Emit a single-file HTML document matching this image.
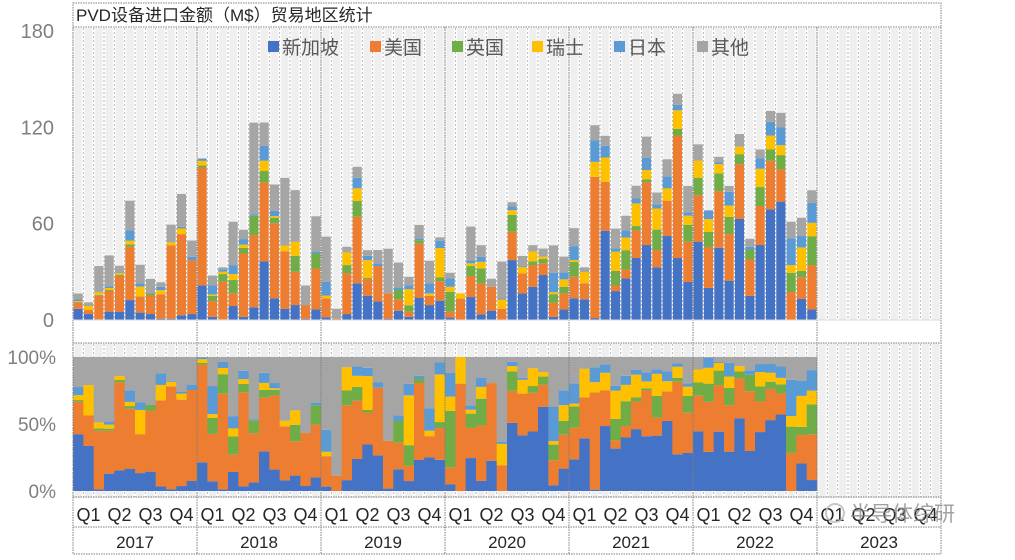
<!DOCTYPE html>
<html><head><meta charset="utf-8">
<style>
body{margin:0;background:#fff;}
svg text{font-family:"Liberation Sans","Noto Sans CJK SC",sans-serif;}
</style></head>
<body>
<svg id="chart" width="1015" height="555" xmlns="http://www.w3.org/2000/svg">
<g id="stripes"></g>
<g id="bars"></g>
<g id="pbars"></g>
<g id="frame"></g>
<text x="76" y="21" font-size="17" fill="#262626">PVD设备进口金额（M$）贸易地区统计</text>
<g id="legend"></g>
<g id="axes"></g>
<g opacity="0.8">
<circle cx="835" cy="513" r="9" fill="none" stroke="#bbb" stroke-width="2"/>
<text x="850" y="521" font-size="21" fill="#8c8c8c">半导体综研</text>
</g>
</svg>
<script>
const series = ["新加坡","美国","英国","瑞士","日本","其他"];
const colors = ["#4472c4","#ed7d31","#70ad47","#ffc000","#5b9bd5","#a5a5a5"];
const years = ["2017","2018","2019","2020","2021","2022","2023"];
const quarters = ["Q1","Q2","Q3","Q4"];
const yTicks = [0,60,120,180];
const pTicks = ["0%","50%","100%"];
const singapore = [7,3.7,0.4,5.2,5.2,12.4,4.6,3.7,0.8,0.8,2.9,3.7, 21.6,2,0.4,8.7,2,7.9,36.5,13.5,7,9.3,0.8,6.6, 1.7,0,3.7,22.8,15.1,11.6,0.8,5.8,2,13.7,9.3,12, 1.5,0,14.3,3.5,5.8,0,37.3,16.6,20.7,28,2,6.6, 13.5,12.9,1.2,55.6,18,25.9,38.6,46.7,32.8,52.3,38.6,23.7, 48.8,20,45,24.5,62.9,15.1,46.7,68.9,73.7,0,13.1,6.6];
const usa = [4,2.5,14.7,12.9,22.2,33.2,10,11.6,15.1,45.6,50.6,33.6, 73.4,9.8,23.4,7.9,39.4,45,49.2,46.7,35.7,20.7,8.5,25.5, 11.8,0.8,25.5,41.5,10.4,22,15.8,7.1,3.1,34,5.8,12.2, 3.7,13.3,13.1,19.3,14.9,7,17.6,12.4,13.5,7.3,8.7,10, 13.5,10,88,30.5,3.5,5.6,17.2,39,10.8,22,76.3,25.1, 29,25.5,35.3,29,34.2,22.6,24.3,30.3,20.1,17.4,13.5,27.6];
const uk = [0.2,0,0.6,0.6,0.6,1.5,0,1.2,0,0,0,0, 1.2,3.3,4.8,8.3,3.5,12,7.1,3.5,0,10,0,9.3, 0,0,5,9.8,0.8,0,0,5.8,4.1,2,0,2.3, 12.4,0,6.2,9.3,0,0,10.6,0,2.3,2.7,5.4,4.1, 9.1,0,0,0,9.1,12,2.7,1.9,12.7,0,4.1,10.4, 10.8,9.3,11,10.8,6.2,6.2,11.8,7,8.9,12,3.9,18];
const swiss = [0.6,2.5,1.5,1.2,1,2.3,6.2,0,2.7,2,3.5,0, 2.9,0.8,1.5,3.7,2,0,6.4,1,3.7,8.7,0,0, 1.7,0,7.9,7.9,11,0,0,0,10,0,1.5,18.3, 3.1,3.3,1.7,4.1,0,5.8,2.9,4.1,6.2,1.5,1.2,4.6, 1.2,7,9.3,15.1,12,7.9,14.1,5.8,13.1,7.7,11.6,5.8, 10.6,8.1,5.8,7,4.6,0,11.4,8.7,6.2,4.8,14.7,8.3];
const japan = [1,0,0,1,0,6.4,2,0,2,0.4,1,2, 1.2,5.8,1.5,5.6,3.5,1,9.3,3.3,0,0,0,1.2, 8.5,0,0,6.6,2.7,1.7,0,1.5,2.3,1.2,6.2,4.6, 5.2,0,1.9,3.1,0,0.6,2.3,0.6,0,0,12,4.4, 8.7,0,13.5,7.3,2.1,4.4,3.1,7.7,2.7,7.3,3.5,2.1, 0,5,1,8.5,0,1.7,6.4,8.5,11,16.6,7.1,12.4];
const other = [3.7,2.3,16.4,19.3,4.8,18.5,11.6,9.1,2.9,10.6,20.5,10.2, 0.4,6,1.2,27,5.8,57,14.5,16.4,42.1,32.2,12.2,22, 28.2,6.2,3.5,6.8,3.5,8.3,27.8,15.6,5.4,8.3,14.1,2.1, 3.5,0,21,7.3,5,23,2.7,6.2,3.9,5,17.2,9.8, 11.2,2.9,9.3,6.2,12.2,9.1,7.9,13.1,7.3,10.8,6.8,16.4, 10.2,0.5,3.5,3.7,7.9,5,5.6,6.8,9.1,10.4,11.4,7.9];
const data = [singapore,usa,uk,swiss,japan,other];

const NS="http://www.w3.org/2000/svg";
const X0=73, X1=941, N=84, MW=(X1-X0)/N;
const TOP0=320, TOP180=31, P0=491, P100=357;
const xm = i => X0 + i*MW;
const yv = v => TOP0 - v*(TOP0-TOP180)/180;
const yp = f => P0 - f*(P0-P100);
function mk(tag, attrs, parent){const e=document.createElementNS(NS,tag);for(const k in attrs)e.setAttribute(k,attrs[k]);parent.appendChild(e);return e;}

const stripes=document.getElementById('stripes');
for(let i=0;i<N;i++){
  const r=mk('rect',{x:xm(i)+1.5,y:28,width:MW-3,height:470,fill:'#efefef'},stripes);
  
  
  mk('line',{x1:xm(i),x2:xm(i),y1:28,y2:497,stroke:'#a6a6a6','stroke-width':0.8,'stroke-dasharray':'2,2'},stripes);
}
mk('rect',{x:X0,y:320,width:X1-X0,height:23,fill:'#fff'},stripes);

const bars=document.getElementById('bars'), pbars=document.getElementById('pbars');
const M=singapore.length;
for(let i=0;i<M;i++){
  let cum=0,tot=0;
  for(let s=0;s<6;s++) tot+=data[s][i];
  let pc=0;
  for(let s=0;s<6;s++){
    const v=data[s][i];
    if(v>0){
      const r=mk('rect',{x:xm(i)+0.6,y:yv(cum+v),width:MW-1.2,height:yv(cum)-yv(cum+v),fill:colors[s]},bars);
      
      
      const f=v/tot;
      const p=mk('rect',{x:xm(i),y:yp(pc+f),width:MW+0.3,height:yp(pc)-yp(pc+f),fill:colors[s]},pbars);
      
      
      pc+=f;
    }
    cum+=v;
  }
}

const frame=document.getElementById('frame');
const dl={stroke:'#7f7f7f','stroke-width':1,'stroke-dasharray':'1.5,1'};
mk('rect',Object.assign({x:X0,y:3,width:X1-X0,height:551,fill:'none'},dl),frame);
[27,343,497,527].forEach(y=>mk('line',Object.assign({x1:X0,x2:X1,y1:y,y2:y},dl),frame));
for(let k=1;k<7;k++){const x=xm(k*12);mk('line',Object.assign({x1:x,x2:x,y1:27,y2:554},dl),frame);}
mk('line',{x1:X0,x2:X1,y1:TOP0,y2:TOP0,stroke:'#d9d9d9','stroke-width':1},frame);

const axes=document.getElementById('axes');
yTicks.forEach(t=>{
  const e=mk('text',{x:54,y:yv(t)+7,'font-size':20,fill:'#7f7f7f','text-anchor':'end'},axes);
  e.textContent=t;
  
  
});
pTicks.forEach((t,k)=>{
  const e=mk('text',{x:56,y:yp(k/2)+7,'font-size':19,fill:'#7f7f7f','text-anchor':'end'},axes);
  e.textContent=t;
  
  
});
for(let k=0;k<N/3;k++){
  const e=mk('text',{x:xm(k*3)+MW*1.5,y:521,'font-size':18,fill:'#262626','text-anchor':'middle'},axes);
  e.textContent=quarters[k%4];
  
  
}
years.forEach((y,k)=>{
  const e=mk('text',{x:xm(k*12)+MW*6,y:548,'font-size':17,fill:'#262626','text-anchor':'middle'},axes);
  e.textContent=y;
  
  
});

const legend=document.getElementById('legend');
const lx=[268,370,452,532,614,697];
series.forEach((s,k)=>{
  const g=mk('g',{},legend);
  
  
  mk('rect',{x:lx[k],y:41,width:11,height:11,fill:colors[k]},g);
  const t=mk('text',{x:lx[k]+14,y:54,'font-size':19,fill:'#595959'},g);
  t.textContent=s;
});
</script>
</body></html>
